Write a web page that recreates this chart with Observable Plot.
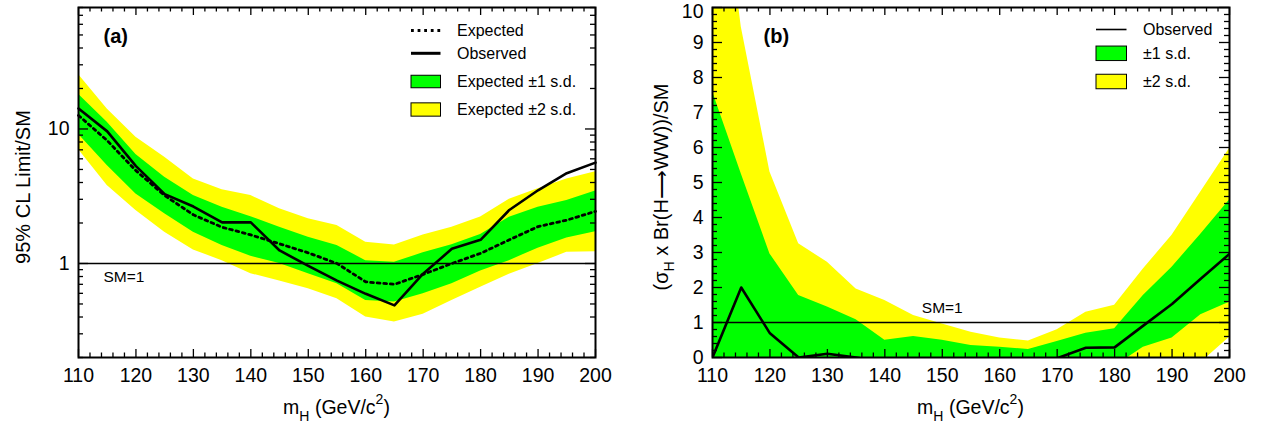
<!DOCTYPE html>
<html>
<head>
<meta charset="utf-8">
<script src="https://cdn.jsdelivr.net/npm/d3@7"></script>
<script src="https://cdn.jsdelivr.net/npm/@observablehq/plot@0.6"></script>
<style>
  html, body { margin: 0; padding: 0; background: #fff; }
  #wrap { display: flex; width: 1262px; height: 428px; }
  #wrap svg { display: block; }
</style>
</head>
<body>
<div id="wrap"></div>
<script>
// ---------------- data ----------------
const mass = [110,115,120,125,130,135,140,145,150,155,160,165,170,175,180,185,190,195,200];

// panel (a): 95% CL limit / SM (log scale)
const aObserved = [14.2, 9.6, 5.3, 3.28, 2.65, 2.02, 2.02, 1.25, 0.96, 0.745, 0.595, 0.488, 0.84, 1.285, 1.5, 2.5, 3.5, 4.69, 5.62];
const aExpected = [12.6, 8.2, 4.9, 3.2, 2.3, 1.86, 1.63, 1.4, 1.2, 1.0, 0.73, 0.70, 0.83, 1.0, 1.19, 1.5, 1.88, 2.1, 2.44];
const aOneSigLo = [9.15, 5.34, 3.29, 2.34, 1.71, 1.36, 1.13, 1.0, 0.84, 0.706, 0.53, 0.517, 0.596, 0.706, 0.88, 1.05, 1.3, 1.55, 1.72];
const aOneSigHi = [18.1, 11.2, 6.45, 4.38, 3.2, 2.62, 2.23, 1.86, 1.57, 1.36, 1.05, 1.02, 1.2, 1.38, 1.64, 2.21, 2.62, 2.94, 3.46];
const aTwoSigLo = [7.05, 3.8, 2.48, 1.71, 1.26, 1.05, 0.84, 0.74, 0.65, 0.547, 0.40, 0.367, 0.42, 0.53, 0.667, 0.83, 1.0, 1.21, 1.22];
const aTwoSigHi = [25.4, 14.1, 8.67, 6.16, 4.25, 3.54, 3.2, 2.55, 2.15, 1.92, 1.44, 1.37, 1.63, 1.86, 2.22, 3.0, 3.6, 4.25, 4.8];

// panel (b): (sigma_H x Br(H->WW))/SM (linear)
const bObserved = [0, 2.0, 0.69, 0, 0.105, 0, -0.15, -0.15, -0.15, -0.15, -0.15, -0.15, -0.02, 0.28, 0.29, 0.91, 1.53, 2.25, 2.96];
const bOneSigLo = [0, 0, 0, 0, 0, 0, 0, 0, 0, 0, 0, 0, 0, 0, -0.25, 0.29, 0.56, 1.22, 1.58];
const bOneSigHi = [7.6, 5.25, 2.96, 1.77, 1.44, 1.08, 0.49, 0.6, 0.49, 0.34, 0.29, 0.23, 0.46, 0.69, 0.82, 1.77, 2.58, 3.52, 4.5];
const bTwoSigLo = [0, 0, 0, 0, 0, 0, 0, 0, 0, 0, 0, 0, 0, 0, -1.5, -1.2, -0.75, -0.15, 0.58];
const bTwoSigHi = [16, 9.45, 5.3, 3.25, 2.72, 1.96, 1.63, 1.2, 0.96, 0.72, 0.56, 0.47, 0.79, 1.29, 1.49, 2.53, 3.49, 4.73, 5.97];

// ticks
const xMajor = [110,120,130,140,150,160,170,180,190,200];
const xMinor = d3.range(110, 201, 2).filter(v => v % 10 !== 0);
const aYLabels = [1, 10];
const aYMinor = [0.2,0.3,0.4,0.5,0.6,0.7,0.8,0.9,2,3,4,5,6,7,8,9,20,30,40,50,60,70,80];
const bYMajor = [0,1,2,3,4,5,6,7,8,9,10];
const bYMinor = d3.range(0, 50).map(i => i * 0.2).filter(v => Math.abs(v - Math.round(v)) > 1e-6);

const legendA = ["Expected", "Observed", "Expected \u00B11 s.d.", "Exepcted \u00B12 s.d."];
const legendB = ["Observed", "\u00B11 s.d.", "\u00B12 s.d."];

// ---------------- layout ----------------
const FONT = "'Liberation Sans', Arial, Helvetica, sans-serif";
const W = 631, H = 428, MT = 7, MB = 71;
const innerH = H - MT - MB;
const GREEN = "#00ff00", YELLOW = "#ffff00";
const TICKFONT = 19.5;

function tickMarks(xMaj, xMin, yMaj, yMin, innerW) {
  const xa = 8, xi = 4.5, ya = 10, yi = 5, sw = 1.3;
  return [
    Plot.tickX(xMaj, {x: d => d, insetTop: innerH - xa, strokeWidth: sw}),
    Plot.tickX(xMin, {x: d => d, insetTop: innerH - xi, strokeWidth: sw}),
    Plot.tickX(xMaj, {x: d => d, insetBottom: innerH - xa, strokeWidth: sw}),
    Plot.tickX(xMin, {x: d => d, insetBottom: innerH - xi, strokeWidth: sw}),
    Plot.tickY(yMaj, {y: d => d, insetRight: innerW - ya, strokeWidth: sw}),
    Plot.tickY(yMin, {y: d => d, insetRight: innerW - yi, strokeWidth: sw}),
    Plot.tickY(yMaj, {y: d => d, insetLeft: innerW - ya, strokeWidth: sw}),
    Plot.tickY(yMin, {y: d => d, insetLeft: innerW - yi, strokeWidth: sw})
  ];
}

function xTitle(svg, cx) {
  const t = d3.select(svg).append("text")
    .attr("x", cx).attr("y", 414).attr("text-anchor", "middle")
    .attr("font-family", FONT).attr("font-size", 19.5).attr("fill", "black");
  t.append("tspan").text("m");
  t.append("tspan").attr("font-size", 14).attr("dy", 7).text("H");
  t.append("tspan").attr("dy", -7).text(" (GeV/c");
  t.append("tspan").attr("font-size", 14).attr("dy", -10).text("2");
  t.append("tspan").attr("dy", 10).text(")");
}

function legend(svg, items, symX, symW, textX) {
  const g = d3.select(svg).append("g").attr("font-family", FONT).attr("font-size", 16)
    .attr("fill", "black").attr("text-anchor", "start");
  items.forEach(it => {
    if (it.type === "line") {
      g.append("line").attr("x1", symX).attr("x2", symX + symW).attr("y1", it.y).attr("y2", it.y)
        .attr("stroke", "black").attr("stroke-width", it.w).attr("stroke-dasharray", it.dash || null);
    } else {
      g.append("rect").attr("x", symX).attr("y", it.y - it.h / 2).attr("width", symW).attr("height", it.h)
        .attr("fill", it.fill).attr("stroke", "black").attr("stroke-width", 1);
    }
    g.append("text").attr("x", textX).attr("y", it.y).attr("dy", "0.36em")
      .attr("text-anchor", "start").text(it.label);
  });
}

// ---------------- panel (a) ----------------
const tableA = mass.map((m, i) => ({m, obs: aObserved[i], exp: aExpected[i],
  lo1: aOneSigLo[i], hi1: aOneSigHi[i], lo2: aTwoSigLo[i], hi2: aTwoSigHi[i]}));
const MLA = 78, MRA = 36;
const plotA = Plot.plot({
  width: W, height: H, marginTop: MT, marginBottom: MB, marginLeft: MLA, marginRight: MRA,
  style: {fontFamily: FONT, fontSize: "18px", background: "white", overflow: "visible"},
  x: {domain: [110, 200], axis: null},
  y: {type: "log", domain: [0.2, 80], axis: null},
  marks: [
    Plot.areaY(tableA, {x: "m", y1: "lo2", y2: "hi2", fill: YELLOW, clip: true}),
    Plot.areaY(tableA, {x: "m", y1: "lo1", y2: "hi1", fill: GREEN, clip: true}),
    Plot.ruleY([1], {stroke: "black", strokeWidth: 1.4}),
    Plot.lineY(tableA, {x: "m", y: "exp", stroke: "black", strokeWidth: 2.8, strokeDasharray: "2.8 3.8"}),
    Plot.lineY(tableA, {x: "m", y: "obs", stroke: "black", strokeWidth: 2.6}),
    ...tickMarks(xMajor, xMinor, aYLabels, aYMinor, W - MLA - MRA),
    Plot.axisX(xMajor, {anchor: "bottom", tickSize: 0, tickPadding: 11, fontSize: TICKFONT, label: null, tickFormat: d => String(d)}),
    Plot.axisY(aYLabels, {anchor: "left", tickSize: 0, tickPadding: 9, fontSize: TICKFONT, label: null, tickFormat: d => String(d)}),
    Plot.text(["(a)"], {frameAnchor: "top-left", dx: 25, dy: 29.5, textAnchor: "start", lineAnchor: "middle", fontSize: 20, fontWeight: "bold"}),
    Plot.text(["SM=1"], {frameAnchor: "left", y: [1], dx: 25, dy: 14, textAnchor: "start", lineAnchor: "middle", fontSize: 15.5}),
    Plot.frame({stroke: "black", strokeWidth: 2})
  ]
});
document.getElementById("wrap").appendChild(plotA);
d3.select(plotA).append("text")
  .attr("transform", "translate(30,187) rotate(-90)").attr("text-anchor", "middle")
  .attr("font-family", FONT).attr("font-size", 20).text("95% CL Limit/SM");
xTitle(plotA, (MLA + W - MRA) / 2);
legend(plotA, [
  {type: "line", y: 30.5, w: 2.8, dash: "2.8 3.8", label: legendA[0]},
  {type: "line", y: 53.3, w: 3, label: legendA[1]},
  {type: "rect", y: 81.5, h: 12.5, fill: GREEN, label: legendA[2]},
  {type: "rect", y: 109.5, h: 13.3, fill: YELLOW, label: legendA[3]}
], 411, 29.5, 457);

// ---------------- panel (b) ----------------
const tableB = mass.map((m, i) => ({m, obs: bObserved[i],
  lo1: bOneSigLo[i], hi1: bOneSigHi[i], lo2: bTwoSigLo[i], hi2: bTwoSigHi[i]}));
const MLB = 81, MRB = 33;
const bYTop = bYMajor.filter(v => v === 10);
const bYRest = bYMajor.filter(v => v !== 10);
const plotB = Plot.plot({
  width: W, height: H, marginTop: MT, marginBottom: MB, marginLeft: MLB, marginRight: MRB,
  style: {fontFamily: FONT, fontSize: "18px", background: "white", overflow: "visible"},
  x: {domain: [110, 200], axis: null},
  y: {domain: [0, 10], axis: null},
  marks: [
    Plot.areaY(tableB, {x: "m", y1: "lo2", y2: "hi2", fill: YELLOW, clip: true}),
    Plot.areaY(tableB, {x: "m", y1: "lo1", y2: "hi1", fill: GREEN, clip: true}),
    Plot.ruleY([1], {stroke: "black", strokeWidth: 1.4}),
    Plot.lineY(tableB, {x: "m", y: "obs", stroke: "black", strokeWidth: 2.6, clip: true}),
    ...tickMarks(xMajor, xMinor, bYMajor, bYMinor, W - MLB - MRB),
    Plot.axisX(xMajor, {anchor: "bottom", tickSize: 0, tickPadding: 11, fontSize: TICKFONT, label: null, tickFormat: d => String(d)}),
    Plot.axisY(bYRest, {anchor: "left", tickSize: 0, tickPadding: 9, fontSize: TICKFONT, label: null, tickFormat: d => String(d)}),
    Plot.axisY(bYTop, {anchor: "left", tickSize: 0, tickPadding: 9, dy: 4, fontSize: TICKFONT, label: null, tickFormat: d => String(d)}),
    Plot.text(["(b)"], {frameAnchor: "top-left", dx: 51, dy: 29.5, textAnchor: "start", lineAnchor: "middle", fontSize: 20, fontWeight: "bold"}),
    Plot.text(["SM=1"], {x: [150], y: [1], dy: -14, textAnchor: "middle", lineAnchor: "middle", fontSize: 15.5}),
    Plot.frame({stroke: "black", strokeWidth: 2})
  ]
});
document.getElementById("wrap").appendChild(plotB);
{
  const t = d3.select(plotB).append("text")
    .attr("transform", "translate(37,187) rotate(-90)").attr("text-anchor", "middle")
    .attr("font-family", FONT).attr("font-size", 20);
  t.append("tspan").text("(\u03C3");
  t.append("tspan").attr("font-size", 14).attr("dy", 6).text("H");
  t.append("tspan").attr("dy", -6).text(" x Br(H\u27F6WW))/SM");
}
xTitle(plotB, (MLB + W - MRB) / 2);
legend(plotB, [
  {type: "line", y: 29.5, w: 1.6, label: legendB[0]},
  {type: "rect", y: 53.3, h: 14.5, fill: GREEN, label: legendB[1]},
  {type: "rect", y: 81.5, h: 14.5, fill: YELLOW, label: legendB[2]}
], 465, 30.5, 512);
</script>
</body>
</html>
